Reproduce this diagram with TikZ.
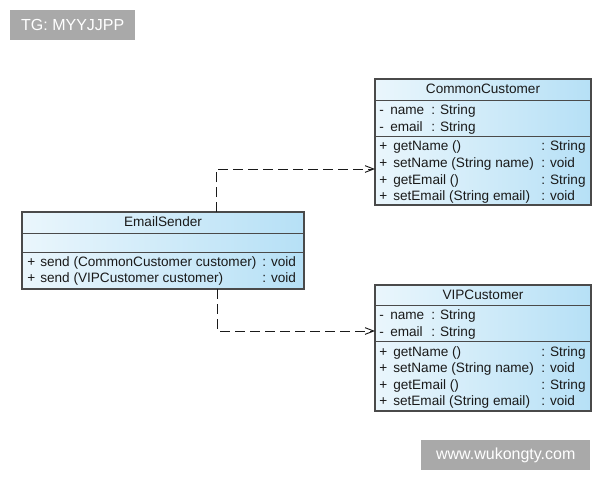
\documentclass[tikz,border=0pt]{standalone}
\usepackage{fontspec}
\setmainfont{Liberation Sans}
\usetikzlibrary{arrows.meta}
\definecolor{edgec}{HTML}{4A4A4A}
\definecolor{lite}{HTML}{EAF6FC}
\definecolor{deep}{HTML}{B6E0F6}
\definecolor{wmc}{HTML}{A9A9A9}
\definecolor{ink}{HTML}{1A1A1A}
\begin{document}
\begin{tikzpicture}[x=0.75pt,y=-0.75pt,
  classbox/.style={draw=edgec, line width=0.8pt, left color=lite, right color=deep, anchor=north west, inner sep=0, outer sep=0},
  sepline/.style={draw=edgec, line width=0.6pt},
  txt/.style={anchor=base west, inner sep=0, font=\fontsize{10.2}{12}\selectfont, text=ink},
  ttl/.style={anchor=base, inner sep=0, font=\fontsize{10.2}{12}\selectfont, text=ink},
  dep/.style={draw=ink, line width=0.7pt, dash pattern=on 7.5pt off 3.75pt, -{Straight Barb[length=6.5pt,width=5pt]}},
  wmbox/.style={fill=wmc, text=white, inner sep=0, anchor=north west, font=\fontsize{12}{14}\selectfont}]
\useasboundingbox (0,0) rectangle (600,480);

% watermarks
\node[wmbox, minimum width=93.75pt, minimum height=22.5pt] (tg) at (10,10) {TG: MYYJJPP};
\node[wmbox, minimum width=126.75pt, minimum height=22.5pt] (www) at (421,440) {www.wukongty.com};

% CommonCustomer
\node[classbox, minimum width=162pt, minimum height=94.5pt] (cc) at (375,79) {};
\draw[sepline] (375,100) -- (591,100);
\draw[sepline] (375,136) -- (591,136);
\node[ttl] (cct) at (483,93.5) {CommonCustomer};
\foreach \y/\n/\t [count=\i] in {114/name/String, 131/email/String}{
  \node[txt] (cca\i s) at (379,\y) {-};
  \node[txt] (cca\i n) at (390,\y) {\n};
  \node[txt] (cca\i t) at (431,\y) {: \t};
}
\foreach \y/\n/\t [count=\i] in {150/getName ()/String, 167/setName (String name)/void, 184/getEmail ()/String, 200.5/setEmail (String email)/void}{
  \node[txt] (ccm\i s) at (379,\y) {+};
  \node[txt] (ccm\i n) at (393,\y) {\n};
  \node[txt] (ccm\i t) at (541,\y) {: \t};
}

% VIPCustomer
\node[classbox, minimum width=162pt, minimum height=94.5pt] (vip) at (375,285) {};
\draw[sepline] (375,305) -- (591,305);
\draw[sepline] (375,341) -- (591,341);
\node[ttl] (vipt) at (483,299) {VIPCustomer};
\foreach \y/\n/\t [count=\i] in {319/name/String, 336/email/String}{
  \node[txt] (vpa\i s) at (379,\y) {-};
  \node[txt] (vpa\i n) at (390,\y) {\n};
  \node[txt] (vpa\i t) at (431,\y) {: \t};
}
\foreach \y/\n/\t [count=\i] in {356/getName ()/String, 372.5/setName (String name)/void, 389/getEmail ()/String, 405.5/setEmail (String email)/void}{
  \node[txt] (vpm\i s) at (379,\y) {+};
  \node[txt] (vpm\i n) at (393,\y) {\n};
  \node[txt] (vpm\i t) at (541,\y) {: \t};
}

% EmailSender
\node[classbox, minimum width=211.5pt, minimum height=57.75pt] (es) at (22,212) {};
\draw[sepline] (22,233) -- (304,233);
\draw[sepline] (22,252) -- (304,252);
\node[ttl] (est) at (163,226.5) {EmailSender};
\foreach \y/\n [count=\i] in {266/send (CommonCustomer customer), 282.5/send (VIPCustomer customer)}{
  \node[txt] (esm\i s) at (27,\y) {+};
  \node[txt] (esm\i n) at (40,\y) {\n};
  \node[txt] (esm\i t) at (262,\y) {: void};
}

% dependencies
\coordinate (k1) at (216,169);
\coordinate (k2) at (217,331);
\draw[dep] (es.north -| k1) -- (k1) -- (k1 -| cc.west);
\draw[dep] (es.south -| k2) -- (k2) -- (k2 -| vip.west);
\end{tikzpicture}
\end{document}
